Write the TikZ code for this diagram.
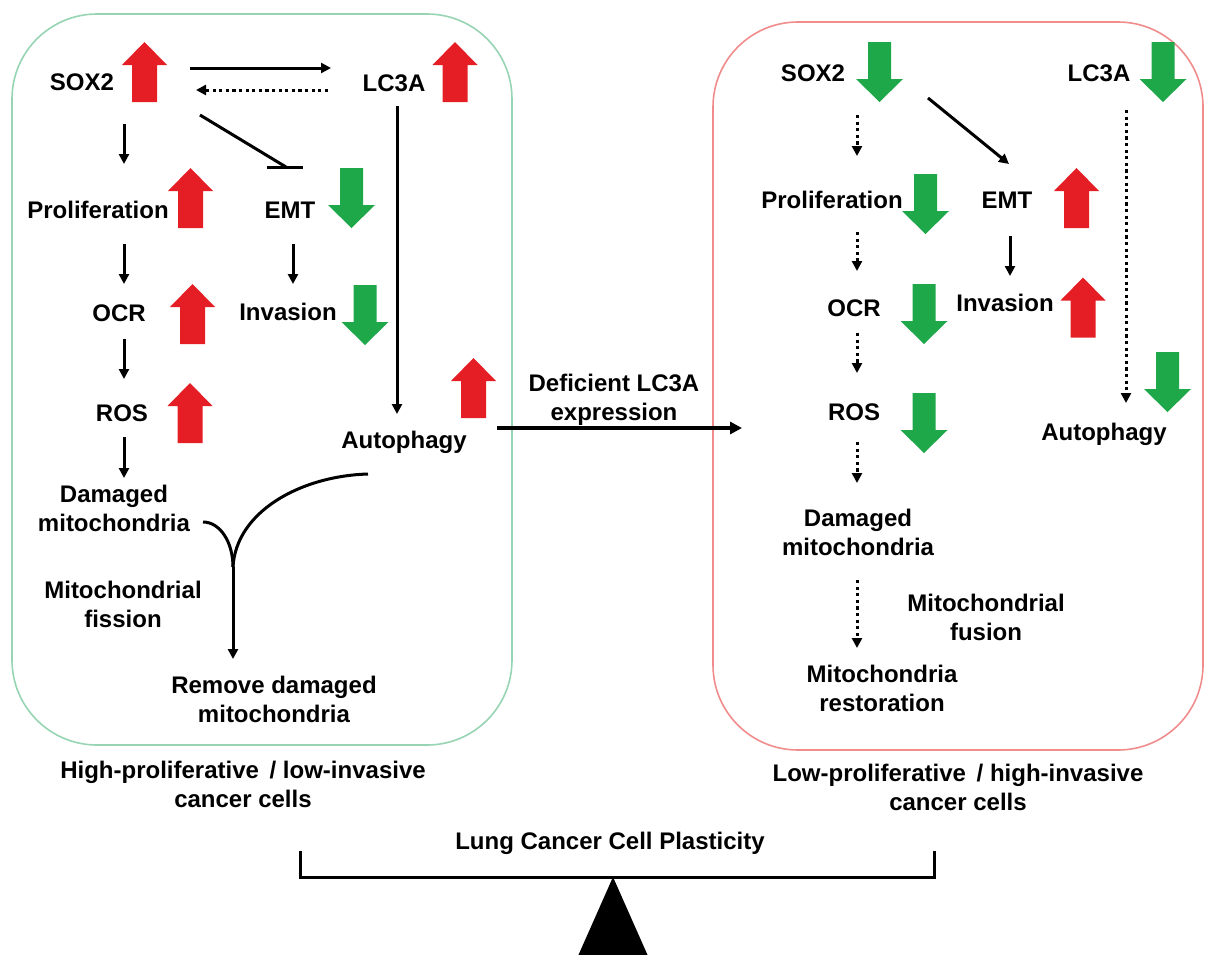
\documentclass[tikz,border=0pt]{standalone}
\usepackage{fontspec}
\setmainfont{Liberation Sans}
\usetikzlibrary{arrows.meta}
\definecolor{boxgreen}{RGB}{150,212,178}
\definecolor{boxred}{RGB}{240,140,140}
\definecolor{upred}{RGB}{228,30,36}
\definecolor{dngreen}{RGB}{30,168,74}
\newcommand\lbf{\bfseries\fontsize{24}{29}\selectfont}
\tikzset{
  lab/.style={font=\lbf, inner sep=0pt, text height=17pt, text depth=0pt},
  ml/.style={font=\lbf, inner sep=0pt, align=center, anchor=north},
  ar/.style={line width=3pt, -{Triangle[length=10pt,width=10pt]}},
  dar/.style={ar, dash pattern=on 3.2pt off 3.4pt},
  bigar/.style={line width=3.2pt, -{Triangle[length=12pt,width=12pt]}},
  plain/.style={line width=3pt},
  boxG/.style={draw=boxgreen, line width=1.6pt, rounded corners=85pt},
  boxR/.style={draw=boxred, line width=1.6pt, rounded corners=85pt},
  pics/upa/.style={code={\fill[upred] (0,-30) -- (22.5,-7) -- (12.5,-7) -- (12.5,30) -- (-12.5,30) -- (-12.5,-7) -- (-22.5,-7) -- cycle;}},
  pics/dna/.style={code={\fill[dngreen] (-11.5,-30) -- (11.5,-30) -- (11.5,7) -- (23.5,7) -- (0,30) -- (-23.5,7) -- (-11.5,7) -- cycle;}},
}
\begin{document}
\begin{tikzpicture}[x=1pt,y=-1pt]
\useasboundingbox (0,0) rectangle (1205,954);
% boxes
\draw[boxG] (12,14) rectangle (512,745);
\draw[boxR] (713,22) rectangle (1203,750);

% ---------- left panel ----------
\node[lab] (sox2L) at (82,82) {SOX2};
\node[lab] (lc3aL) at (394,83) {LC3A};
\node[lab] (prolifL) at (98,210) {Proliferation};
\node[lab] (emtL) at (290,210) {EMT};
\node[lab] (ocrL) at (119,313) {OCR};
\node[lab] (invL) at (288,312) {Invasion};
\node[lab] (rosL) at (122,413) {ROS};
\node[lab] (autoL) at (404,440) {Autophagy};
\node[ml] (damL) at (114,484.5) {Damaged\\mitochondria};
\node[ml] (fissL) at (123,581) {Mitochondrial\\fission};
\node[ml] (remL) at (274,676) {Remove damaged\\mitochondria};
\node[ml] (highL) at (243,761) {High-proliferative\, / low-invasive\\cancer cells};

\pic at (144.5,72) {upa};
\pic at (455,72) {upa};
\pic at (190.5,198) {upa};
\pic at (351.5,198) {dna};
\pic at (192.5,314) {upa};
\pic at (365,315) {dna};
\pic at (190,413) {upa};
\pic at (473.5,388) {upa};

\coordinate (l1a) at (190,68);  \coordinate (l1b) at (331,68);
\coordinate (l2a) at (328,90);  \coordinate (l2b) at (196,90);
\coordinate (l3a) at (124,124); \coordinate (l3b) at (124,164);
\coordinate (inhA) at (200,115); \coordinate (inhB) at (286,167);
\coordinate (l5a) at (397,106); \coordinate (l5b) at (397,414);
\coordinate (l6a) at (124,244); \coordinate (l6b) at (124,284);
\coordinate (l7a) at (293,244); \coordinate (l7b) at (293,284);
\coordinate (l8a) at (124,339); \coordinate (l8b) at (124,379);
\coordinate (l9a) at (124,437); \coordinate (l9b) at (124,478);
\coordinate (cdam) at (203,522);
\coordinate (caut) at (368,474);
\coordinate (merge) at (233,567);
\coordinate (remTop) at (233,659);

\draw[ar] (l1a) -- (l1b);
\draw[dar] (l2a) -- (l2b);
\draw[ar] (l3a) -- (l3b);
\draw[plain] (inhA) -- (inhB);
\draw[plain] ([xshift=-19pt]inhB) -- ([xshift=17pt]inhB);
\draw[ar] (l5a) -- (l5b);
\draw[ar] (l6a) -- (l6b);
\draw[ar] (l7a) -- (l7b);
\draw[ar] (l8a) -- (l8b);
\draw[ar] (l9a) -- (l9b);
\draw[plain] (cdam) .. controls (220,522) and (233,542) .. (merge);
\draw[plain] (caut) .. controls (300,476) and (236,512) .. (merge);
\draw[ar] (merge) -- (remTop);

% ---------- middle ----------
\node[ml] (defic) at (614,374) {Deficient LC3A\\expression};
\coordinate (midA) at (497,428); \coordinate (midB) at (742,428);
\draw[bigar] (midA) -- (midB);

% ---------- right panel ----------
\node[lab] (sox2R) at (813,73) {SOX2};
\node[lab] (lc3aR) at (1099,73) {LC3A};
\node[lab] (prolifR) at (832,200) {Proliferation};
\node[lab] (emtR) at (1007,200) {EMT};
\node[lab] (ocrR) at (854,308) {OCR};
\node[lab] (invR) at (1005,303) {Invasion};
\node[lab] (rosR) at (854,412) {ROS};
\node[lab] (autoR) at (1104,432) {Autophagy};
\node[ml] (damR) at (858,508.5) {Damaged\\mitochondria};
\node[ml] (fusR) at (986,593.5) {Mitochondrial\\fusion};
\node[ml] (restR) at (882,664.5) {Mitochondria\\restoration};
\node[ml] (lowR) at (958,763.5) {Low-proliferative\, / high-invasive\\cancer cells};

\pic at (879.5,72) {dna};
\pic at (1163,72) {dna};
\pic at (925.5,204) {dna};
\pic at (1076.5,198) {upa};
\pic at (924,314) {dna};
\pic at (1083,307.5) {upa};
\pic at (1167.5,382) {dna};
\pic at (924,423) {dna};

\coordinate (r1a) at (857,115);  \coordinate (r1b) at (857,156);
\coordinate (r2a) at (928,98);   \coordinate (r2b) at (1009,164);
\coordinate (r3a) at (857,232);  \coordinate (r3b) at (857,271);
\coordinate (r4a) at (1010,236); \coordinate (r4b) at (1010,276);
\coordinate (r5a) at (857,333);  \coordinate (r5b) at (857,373);
\coordinate (r6a) at (1126,110); \coordinate (r6b) at (1126,403);
\coordinate (r7a) at (857,442);  \coordinate (r7b) at (857,483);
\coordinate (r8a) at (857,580);  \coordinate (r8b) at (857,648);
\draw[dar] (r1a) -- (r1b);
\draw[ar] (r2a) -- (r2b);
\draw[dar] (r3a) -- (r3b);
\draw[ar] (r4a) -- (r4b);
\draw[dar] (r5a) -- (r5b);
\draw[dar] (r6a) -- (r6b);
\draw[dar] (r7a) -- (r7b);
\draw[dar] (r8a) -- (r8b);

% ---------- balance ----------
\node[lab] (lung) at (610,841) {Lung Cancer Cell Plasticity};
\coordinate (bl) at (300,851); \coordinate (br) at (934,851);
\coordinate (pivot) at (613,877);
\draw[line width=3pt] (bl) -- (300,877) -- (934,877) -- (br);
\fill (pivot) -- (648,956) -- (578,956) -- cycle;
\end{tikzpicture}
\end{document}
